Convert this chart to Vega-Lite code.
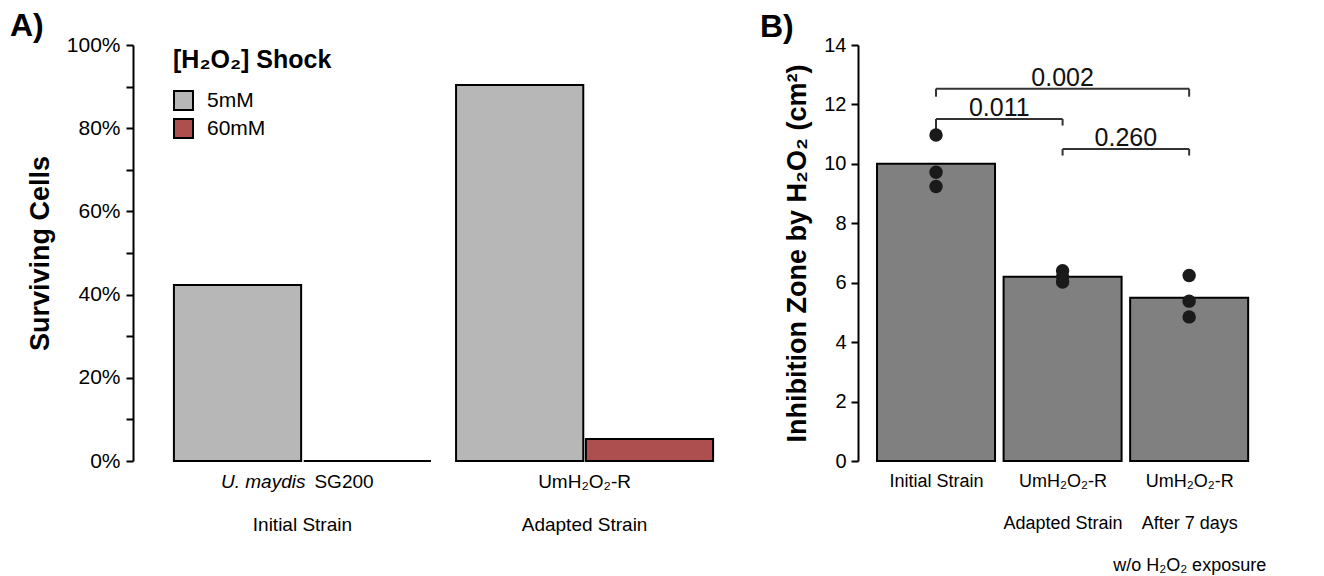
{
  "$schema": "https://vega.github.io/schema/vega-lite/v6.json",
  "padding": {"left": 10, "top": 10, "right": 5, "bottom": 2},
  "background": "white",
  "bounds": "flush",
  "spacing": 104,
  "config": {
    "font": "Liberation Sans",
    "view": {"stroke": null},
    "axis": {"domainColor": "black", "domainWidth": 2, "tickColor": "black", "tickWidth": 2, "tickSize": 7, "labelColor": "black", "titleColor": "black", "grid": false, "titleFontWeight": "bold", "labelFont": "Liberation Sans", "titleFont": "Liberation Sans", "labelOverlap": false},
    "title": {"fontSize": 32, "fontWeight": "bold", "color": "black", "anchor": "start", "frame": "group", "baseline": "bottom"}
  },
  "hconcat": [
    {
      "width": 621,
      "height": 416,
      "title": {"text": "A)", "dx": -123, "offset": -9},
      "data": {"values": [
        {"strain": "Initial", "shock": "5mM", "surv": 0.423},
        {"strain": "Initial", "shock": "60mM", "surv": 0},
        {"strain": "Adapted", "shock": "5mM", "surv": 0.904},
        {"strain": "Adapted", "shock": "60mM", "surv": 0.053}
      ]},
      "encoding": {
        "x": {"field": "strain", "type": "nominal",
          "scale": {"domain": ["Initial", "Adapted"], "paddingInner": 0.089, "paddingOuter": 0.145},
          "axis": {"title": null, "domain": false, "ticks": false, "labelAngle": 0, "labelFontSize": 19, "labelLineHeight": 43, "labelPadding": 11, "labelOverlap": false,
            "labelExpr": "datum.value == 'Initial' ? [' ', 'Initial Strain'] : ['UmH₂O₂-R', 'Adapted Strain']"}}
      },
      "layer": [
        {
          "mark": {"type": "bar", "stroke": "black", "strokeWidth": 2},
          "encoding": {
            "xOffset": {"field": "shock", "type": "nominal", "scale": {"domain": ["5mM", "60mM"], "paddingInner": 0.02, "paddingOuter": 0}},
            "y": {"field": "surv", "type": "quantitative",
              "scale": {"domain": [0, 1], "nice": false},
              "axis": {"title": "Surviving Cells", "titleFontSize": 27, "labelFontSize": 21, "labelPadding": 6, "titlePadding": 12,
                "values": [0, 0.1, 0.2, 0.3, 0.4, 0.5, 0.6, 0.7, 0.8, 0.9, 1.0], "format": ".0%",
                "labelExpr": "round(datum.value*10) % 2 == 0 ? datum.label : ''"}},
            "color": {"field": "shock", "type": "nominal",
              "scale": {"domain": ["5mM", "60mM"], "range": ["#b7b7b7", "#ad4f4f"]},
              "legend": {"title": "[H₂O₂] Shock", "orient": "none", "legendX": 40, "legendY": 3, "padding": 0,
                "titleFontSize": 25, "titleFontWeight": "bold", "titleColor": "black", "titlePadding": 17,
                "labelFontSize": 21, "labelColor": "black", "labelOffset": 13,
                "symbolType": "square", "symbolSize": 361, "symbolStrokeColor": "black", "symbolStrokeWidth": 2, "symbolOpacity": 1, "rowPadding": 1}}
          }
        },
        {
          "data": {"values": [{"strain": "Initial", "species": "U. maydis", "isolate": "SG200"}]},
          "mark": {"type": "text", "fontStyle": "italic", "fontSize": 19, "align": "right", "dx": 3, "baseline": "middle", "color": "black"},
          "encoding": {"y": {"datum": -0.0505}, "text": {"field": "species"}}
        },
        {
          "data": {"values": [{"strain": "Initial", "species": "U. maydis", "isolate": "SG200"}]},
          "mark": {"type": "text", "fontSize": 19, "align": "left", "dx": 12, "baseline": "middle", "color": "black"},
          "encoding": {"y": {"datum": -0.0505}, "text": {"field": "isolate"}}
        }
      ]
    },
    {
      "width": 415,
      "height": 416,
      "title": {"text": "B)", "dx": -98, "offset": -9},
      "layer": [
        {
          "data": {"values": [
            {"order": 1, "strain": "Initial Strain", "mean": 10.0},
            {"order": 2, "strain": "Adapted Strain", "mean": 6.2},
            {"order": 3, "strain": "After 7 days", "mean": 5.49}
          ]},
          "mark": {"type": "bar", "width": 118, "fill": "#808080", "stroke": "black", "strokeWidth": 2},
          "encoding": {
            "x": {"field": "order", "type": "quantitative",
              "scale": {"domain": [0.423, 3.623], "nice": false, "zero": false},
              "axis": {"title": null, "domain": false, "ticks": false, "values": [1, 2, 3], "labelFontSize": 18, "labelLineHeight": 42, "labelPadding": 11, "labelOverlap": false,
                "labelExpr": "datum.value == 1 ? 'Initial Strain' : datum.value == 2 ? ['UmH₂O₂-R', 'Adapted Strain'] : ['UmH₂O₂-R', 'After 7 days', 'w/o H₂O₂ exposure']"}},
            "y": {"field": "mean", "type": "quantitative",
              "scale": {"domain": [0, 14], "nice": false},
              "axis": {"title": "Inhibition Zone by H₂O₂ (cm²)", "titleFontSize": 27, "labelFontSize": 20, "labelPadding": 5, "titlePadding": 12,
                "values": [0, 1, 2, 3, 4, 5, 6, 7, 8, 9, 10, 11, 12, 13, 14],
                "labelExpr": "datum.value % 2 == 0 ? datum.label : ''"}}
          }
        },
        {
          "data": {"values": [
            {"from": 1, "to": 3, "y": 12.53, "tickFrom": 12.26, "tickTo": 12.26, "mid": 2, "label": "0.002"},
            {"from": 1, "to": 2, "y": 11.51, "tickFrom": 11.15, "tickTo": 11.29, "mid": 1.5, "label": "0.011"},
            {"from": 2, "to": 3, "y": 10.5, "tickFrom": 10.28, "tickTo": 10.28, "mid": 2.5, "label": "0.260"}
          ]},
          "layer": [
            {
              "mark": {"type": "rule", "color": "#333333", "strokeWidth": 2},
              "encoding": {
                "x": {"field": "from", "type": "quantitative"},
                "x2": {"field": "to"},
                "y": {"field": "y", "type": "quantitative"}
              }
            },
            {
              "mark": {"type": "rule", "color": "#333333", "strokeWidth": 2},
              "encoding": {
                "x": {"field": "from", "type": "quantitative"},
                "y": {"field": "y", "type": "quantitative"},
                "y2": {"field": "tickFrom"}
              }
            },
            {
              "mark": {"type": "rule", "color": "#333333", "strokeWidth": 2},
              "encoding": {
                "x": {"field": "to", "type": "quantitative"},
                "y": {"field": "y", "type": "quantitative"},
                "y2": {"field": "tickTo"}
              }
            },
            {
              "mark": {"type": "text", "fontSize": 25, "baseline": "alphabetic", "dy": -3, "color": "#111111"},
              "encoding": {
                "x": {"field": "mid", "type": "quantitative"},
                "y": {"field": "y", "type": "quantitative"},
                "text": {"field": "label"}
              }
            }
          ]
        },
        {
          "data": {"values": [
            {"order": 1, "value": 10.97}, {"order": 1, "value": 9.72}, {"order": 1, "value": 9.24},
            {"order": 2, "value": 6.40}, {"order": 2, "value": 6.20}, {"order": 2, "value": 6.02},
            {"order": 3, "value": 6.24}, {"order": 3, "value": 5.38}, {"order": 3, "value": 4.85}
          ]},
          "mark": {"type": "circle", "size": 180, "color": "#1a1a1a", "opacity": 1},
          "encoding": {
            "x": {"field": "order", "type": "quantitative"},
            "y": {"field": "value", "type": "quantitative"}
          }
        }
      ]
    }
  ]
}
